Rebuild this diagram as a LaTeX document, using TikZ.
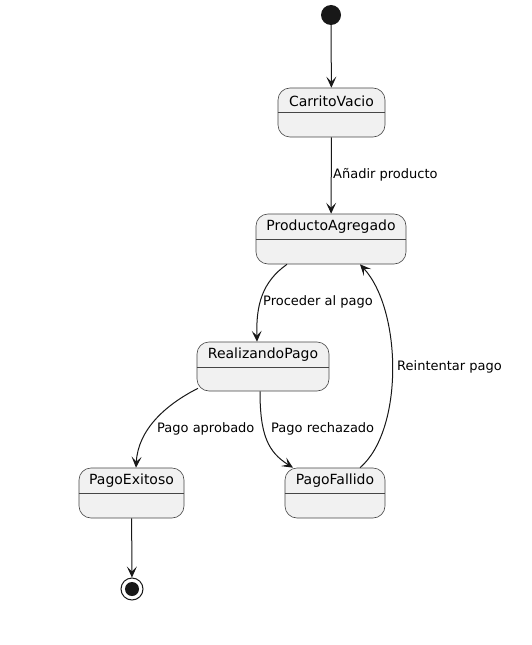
\documentclass[tikz,border=0pt]{standalone}
\usepackage{fontspec}
\setmainfont{DejaVu Sans}
\usetikzlibrary{arrows.meta}
\definecolor{boxfill}{HTML}{F1F1F1}
\definecolor{linecol}{HTML}{181818}
\tikzset{
  statebox/.style={draw=linecol!80, line width=0.6bp, fill=boxfill, rounded corners=12bp, inner sep=0pt},
  titletext/.style={font=\fontsize{14bp}{16bp}\selectfont, inner sep=0pt, text=black},
  lbl/.style={font=\fontsize{13bp}{15bp}\selectfont, inner sep=0pt, anchor=west, text=black},
  conn/.style={draw=linecol, line width=1bp, -{Stealth[length=11bp,width=10bp,inset=5bp]}},
  divider/.style={draw=linecol!80, line width=0.6bp}
}
\begin{document}
\begin{tikzpicture}[x=1bp,y=-1bp]
\useasboundingbox (0,0) rectangle (532,645);
\fill[white] (0,0) rectangle (532,645);

% start and end
\node[circle, fill=linecol, minimum size=20bp, inner sep=0pt] (start) at (331,15) {};
\node[circle, draw=linecol, line width=1bp, fill=white, minimum size=22bp, inner sep=0pt] (endo) at (132,589) {};
\node[circle, fill=linecol, minimum size=14bp, inner sep=0pt] (endi) at (132,589) {};

% states
\node[statebox, minimum width=107bp, minimum height=49bp] (cv) at (331.5,112.5) {};
\node[titletext] (cvt) at (331.5,101) {CarritoVacio};
\draw[divider] ([yshift=-25bp]cv.north west) -- ([yshift=-25bp]cv.north east);

\node[statebox, minimum width=150bp, minimum height=50bp] (pa) at (331,239) {};
\node[titletext] (pat) at (331,227) {ProductoAgregado};
\draw[divider] ([yshift=-26bp]pa.north west) -- ([yshift=-26bp]pa.north east);

\node[statebox, minimum width=132bp, minimum height=49bp] (rp) at (263,366.5) {};
\node[titletext] (rpt) at (263,355) {RealizandoPago};
\draw[divider] ([yshift=-26bp]rp.north west) -- ([yshift=-26bp]rp.north east);

\node[statebox, minimum width=105bp, minimum height=50bp] (pe) at (131.5,493) {};
\node[titletext] (pet) at (131.5,481) {PagoExitoso};
\draw[divider] ([yshift=-26bp]pe.north west) -- ([yshift=-26bp]pe.north east);

\node[statebox, minimum width=100bp, minimum height=50bp] (pf) at (335,493) {};
\node[titletext] (pft) at (335,481) {PagoFallido};
\draw[divider] ([yshift=-26bp]pf.north west) -- ([yshift=-26bp]pf.north east);

% connectors
\draw[conn] (start) -- (cv);
\draw[conn] (cv) -- (pa);
\draw[conn] ([xshift=-44bp]pa.south) .. controls (262,282) and (256,305) .. ([xshift=-6bp]rp.north);
\draw[conn] ([xshift=-65bp,yshift=3bp]rp.south) .. controls (165,405) and (138,430) .. ([xshift=4.5bp]pe.north);
\draw[conn] ([xshift=-3bp]rp.south) .. controls (260,435) and (268,452) .. ([xshift=-42bp]pf.north);
\draw[conn] ([xshift=25bp]pf.north) .. controls (404,430) and (402,310) .. ([xshift=29bp]pa.south);
\draw[conn] (pe) -- (endo);

% labels
\node[lbl] (l1) at (333,175) {Añadir producto};
\node[lbl] (l2) at (263,302) {Proceder al pago};
\node[lbl] (l3) at (397,367) {Reintentar pago};
\node[lbl] (l4) at (157,429) {Pago aprobado};
\node[lbl] (l5) at (271,429) {Pago rechazado};
\end{tikzpicture}
\end{document}
